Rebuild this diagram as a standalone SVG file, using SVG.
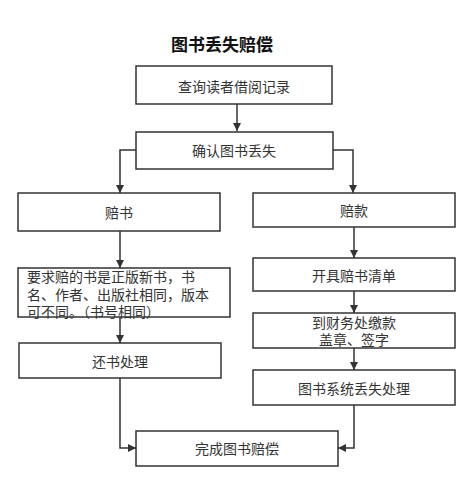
<svg xmlns="http://www.w3.org/2000/svg" width="474" height="485" viewBox="0 0 474 485">
<defs>
<style>
.box{fill:#fff;stroke:#333;stroke-width:1.5}
.t{font-family:"Noto Sans CJK SC","Noto Sans",sans-serif;font-size:14px;fill:#333;text-anchor:middle;dominant-baseline:central}
.tl{font-family:"Noto Sans CJK SC","Noto Sans",sans-serif;font-size:14px;fill:#333}
.title{font-family:"Noto Sans CJK SC","Noto Sans",sans-serif;font-size:17px;font-weight:bold;fill:#111;text-anchor:middle;dominant-baseline:central}
.c{fill:none;stroke:#333;stroke-width:1.5}
</style>
<marker id="ah" markerWidth="10" markerHeight="10" refX="8" refY="4" orient="auto" markerUnits="userSpaceOnUse">
<path d="M0,0 L8,4 L0,8 Z" fill="#333"/>
</marker>
</defs>
<rect width="474" height="485" fill="#fff"/>
<text class="title" x="222" y="43">图书丢失赔偿</text>
<g id="connectors">
<path class="c" d="M237,104 V131" marker-end="url(#ah)"/>
<path class="c" d="M136,150 H120 V193" marker-end="url(#ah)"/>
<path class="c" d="M333,150 H353 V193" marker-end="url(#ah)"/>
<path class="c" d="M120,231 V268" marker-end="url(#ah)"/>
<path class="c" d="M120,317 V343" marker-end="url(#ah)"/>
<path class="c" d="M354,227 V258" marker-end="url(#ah)"/>
<path class="c" d="M354,291 V313" marker-end="url(#ah)"/>
<path class="c" d="M354,348 V370" marker-end="url(#ah)"/>
<path class="c" d="M120,378 V448 H136" marker-end="url(#ah)"/>
<path class="c" d="M354,405 V448 H338" marker-end="url(#ah)"/>
</g>
<g id="n1"><rect class="box" x="136" y="66" width="196" height="38"/><text class="t" x="234" y="86">查询读者借阅记录</text></g>
<g id="n2"><rect class="box" x="136" y="132" width="197" height="37"/><text class="t" x="234" y="150">确认图书丢失</text></g>
<g id="n3"><rect class="box" x="18" y="193" width="202" height="38"/><text class="t" x="119" y="212">赔书</text></g>
<g id="n4"><rect class="box" x="18" y="268" width="212" height="49"/>
<text class="tl" x="27" y="282">要求赔的书是正版新书，书</text>
<text class="tl" x="27" y="300">名、作者、出版社相同，版本</text>
<text class="tl" x="27" y="317">可不同。（书号相同）</text></g>
<g id="n5"><rect class="box" x="19" y="343" width="202" height="35"/><text class="t" x="120" y="361">还书处理</text></g>
<g id="n6"><rect class="box" x="253" y="193" width="202" height="34"/><text class="t" x="354" y="210">赔款</text></g>
<g id="n7"><rect class="box" x="253" y="258" width="202" height="33"/><text class="t" x="354" y="275">开具赔书清单</text></g>
<g id="n8"><rect class="box" x="253" y="313" width="202" height="35"/><text class="t" x="354" y="322">到财务处缴款</text><text class="t" x="354" y="339">盖章、签字</text></g>
<g id="n9"><rect class="box" x="253" y="370" width="202" height="35"/><text class="t" x="354" y="388">图书系统丢失处理</text></g>
<g id="n10"><rect class="box" x="136" y="431" width="202" height="35"/><text class="t" x="237" y="448">完成图书赔偿</text></g>
</svg>
